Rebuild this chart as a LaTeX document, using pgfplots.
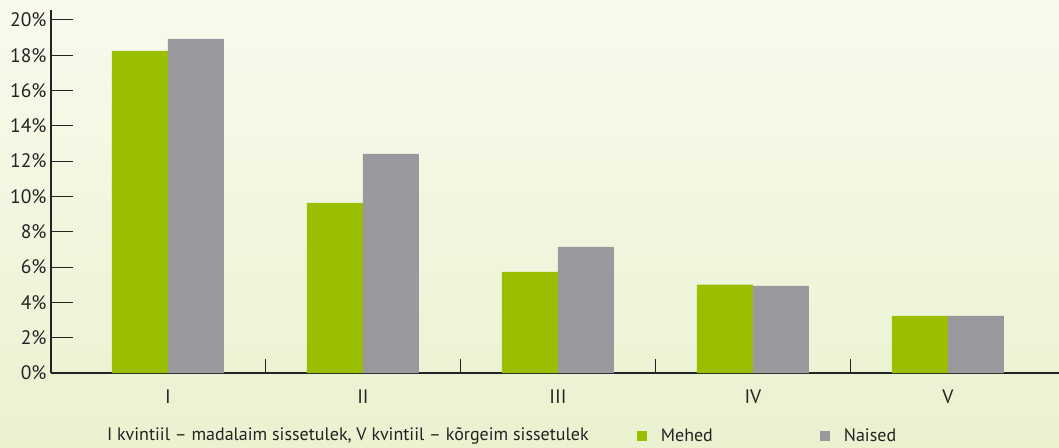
\documentclass[border=0pt]{standalone}
\usepackage{fontspec}
\setmainfont{PT Sans}
\usepackage{pgfplots}
\pgfplotsset{compat=1.18}
\definecolor{mgreen}{RGB}{153,191,0}
\definecolor{mgray}{RGB}{153,152,157}
\definecolor{bgtop}{RGB}{248,250,237}
\definecolor{bgbot}{RGB}{234,242,208}
\definecolor{axcol}{RGB}{35,35,35}
\begin{document}
\begin{tikzpicture}[x=1pt,y=1pt]
\shade[top color=bgtop,bottom color=bgbot] (0,0) rectangle (1059,447);
\begin{axis}[
  at={(51pt,74pt)}, anchor=south west,
  scale only axis, width=1008pt, height=363pt,
  xmin=-0.6, xmax=4.57, ymin=0, ymax=20.56,
  clip=false,
  axis x line*=bottom, axis y line*=left,
  axis line style={line width=1.1pt, color=axcol},
  ybar=0pt, bar width=56pt,
  xtick={0,1,2,3,4}, xticklabels={I,II,III,IV,V},
  minor xtick={0.5,1.5,2.5,3.5},
  major x tick style={draw=none},
  minor x tick style={line width=1.1pt, color=axcol},
  minor tick length=14pt,
  ytick={0,2,4,6,8,10,12,14,16,18,20},
  yticklabels={0\%,2\%,4\%,6\%,8\%,10\%,12\%,14\%,16\%,18\%,20\%},
  y tick style={line width=1.1pt, color=axcol},
  major tick length=22pt, tick align=inside,
  ticklabel style={font=\fontsize{19.5}{24}\selectfont, text=axcol},
  xticklabel style={yshift=-13pt},
  yticklabel style={xshift=-1pt},
  legend columns=2,
  legend style={at={(rel axis cs:0.581,-0.1736)}, anchor=west, draw=none, fill=none,
    inner sep=0pt, font=\fontsize{18}{22}\selectfont, text=axcol,
    nodes={inner sep=0pt},
    /tikz/every odd column/.append style={column sep=14pt},
    /tikz/every even column/.append style={column sep=107pt}},
  legend image code/.code={\fill[#1] (0pt,-5pt) rectangle (10pt,5pt);},
]
\addplot[fill=mgreen, draw=none] coordinates {(0,18.24) (1,9.64) (2,5.73) (3,5.0) (4,3.24)};
\addplot[fill=mgray, draw=none] coordinates {(0,18.92) (1,12.41) (2,7.15) (3,4.94) (4,3.24)};
\legend{Mehed,Naised}
\node[anchor=base west, inner sep=0pt, font=\fontsize{18}{22}\selectfont, text=axcol]
  at (rel axis cs:0.0555,-0.187) {I kvintiil – madalaim sissetulek, V kvintiil – kõrgeim sissetulek};
\end{axis}
\pgfresetboundingbox
\useasboundingbox (0,0) rectangle (1059,447);
\end{tikzpicture}
\end{document}
